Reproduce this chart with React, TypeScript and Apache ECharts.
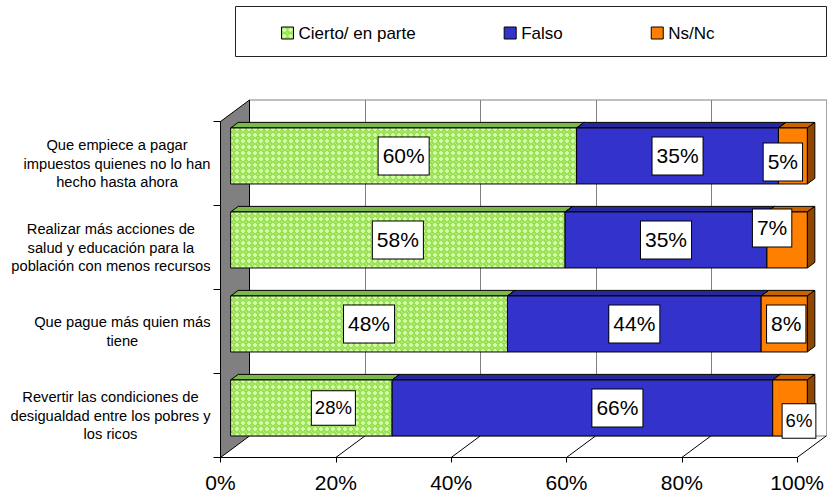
import React, { useEffect, useRef } from 'react';
import * as echarts from 'echarts';

// ---------- data ----------
const categories = [
  'Que empiece a pagar\nimpuestos quienes no lo han\nhecho hasta ahora',
  'Realizar más acciones de\nsalud y educación para la\npoblación con menos recursos',
  'Que pague más quien más\ntiene',
  'Revertir las condiciones de\ndesigualdad entre los pobres y\nlos ricos',
];
const seriesNames = ['Cierto/ en parte', 'Falso', 'Ns/Nc'];
const cierto = [60, 58, 48, 28];
const falso = [35, 35, 44, 66];
const nsnc = [5, 7, 8, 6];
const xTicks = [0, 20, 40, 60, 80, 100];

// ---------- styling / placement ----------
const FONT = 'Liberation Sans, Arial, Helvetica, sans-serif';
const FRONT = { left: 220.5, top: 121.5, width: 577.3, height: 336 };
const DEPTH = [29, -21.5];
const BAR_FRONT = 0.35;
const BAR_DEPTH = 0.26;
const BAR_FILL = 2 / 3;

// manual label nudges (px) per series / category
const labelShift = [
  [[0, 0], [0, 0], [0, 0], [22, 0]],
  [[0, 0], [0, 0], [0, 0], [35, 0]],
  [[-10, 6], [-15, -12], [2, 0], [9, 13]],
];
const labelFont = [
  [21, 21, 21, 18.5],
  [21, 21, 21, 21],
  [21, 21, 21, 18.5],
];

function greenPattern(): any {
  const c = document.createElement('canvas');
  c.width = 6;
  c.height = 6;
  const ctx = c.getContext('2d')!;
  ctx.fillStyle = '#98E253';
  ctx.fillRect(0, 0, 6, 6);
  ctx.fillStyle = '#D4FCA8';
  ctx.fillRect(2, 1, 2, 4);
  ctx.fillRect(1, 2, 4, 2);
  ctx.fillStyle = '#B8F082';
  ctx.fillRect(0, 0, 1, 1);
  ctx.fillRect(5, 5, 1, 1);
  return { image: c, repeat: 'repeat' };
}

export default function App() {
  const ref = useRef<HTMLDivElement>(null);

  useEffect(() => {
    if (!ref.current) return;
    const chart = echarts.init(ref.current, undefined, { renderer: 'svg' });
    const green = greenPattern();
    const faceColors = [
      { front: green, top: '#7DB84A', side: '#5E8F36', legend: green },
      { front: '#3333CC', top: '#27279E', side: '#1E1E7A', legend: '#3333CC' },
      { front: '#FF8000', top: '#C86400', side: '#8F4700', legend: '#FF8000' },
    ];
    const stacks = [cierto, falso, nsnc];

    const segData = (k: number) =>
      categories.map((_, i) => {
        let start = 0;
        for (let j = 0; j < k; j++) start += stacks[j][i];
        return [start, start + stacks[k][i], i];
      });

    const barRenderer = (k: number) => (params: any, api: any) => {
      const s = api.value(0);
      const e = api.value(1);
      const c = api.value(2);
      const p0 = api.coord([s, c]);
      const p1 = api.coord([e, c]);
      const band = api.size([0, 1])[1];
      const h = band * BAR_FILL;
      const fx = DEPTH[0] * BAR_FRONT;
      const fy = DEPTH[1] * BAR_FRONT;
      const dx = DEPTH[0] * BAR_DEPTH;
      const dy = DEPTH[1] * BAR_DEPTH;
      const x0 = p0[0] + fx;
      const x1 = p1[0] + fx;
      const yt = p0[1] + fy - h / 2;
      const yb = yt + h;
      const col = faceColors[k];
      const i = params.dataIndex;
      const off = labelShift[k][i];
      const fs = labelFont[k][i];
      return {
        type: 'group',
        children: [
          {
            type: 'polygon',
            shape: { points: [[x0, yt], [x1, yt], [x1 + dx, yt + dy], [x0 + dx, yt + dy]] },
            style: { fill: col.top, stroke: '#000', lineWidth: 1 },
          },
          {
            type: 'polygon',
            shape: { points: [[x1, yt], [x1 + dx, yt + dy], [x1 + dx, yb + dy], [x1, yb]] },
            style: { fill: col.side, stroke: '#000', lineWidth: 1 },
          },
          {
            type: 'rect',
            shape: { x: x0, y: yt, width: x1 - x0, height: h },
            style: { fill: col.front, stroke: '#000', lineWidth: 1 },
          },
          {
            type: 'text',
            z2: 100,
            style: {
              text: stacks[k][i] + '%',
              x: (x0 + x1) / 2 + off[0],
              y: (yt + yb) / 2 + off[1],
              align: 'center',
              verticalAlign: 'middle',
              fontSize: fs,
              fontFamily: FONT,
              lineHeight: fs + 3,
              fill: '#000',
              backgroundColor: '#fff',
              borderColor: '#000',
              borderWidth: 1,
              padding: fs > 20 ? [6.5, 4] : [6, 3],
            },
          },
        ],
      };
    };

    const frameRenderer = (params: any, api: any) => {
      const v = api.value(0);
      const band = api.size([0, 1])[1];
      const last = categories.length - 1;
      const top = api.coord([0, 0])[1] - band / 2;
      const bottom = api.coord([0, last])[1] + band / 2;
      const x = api.coord([v, last])[0];
      if (params.dataIndex === 0) {
        return {
          type: 'polygon',
          shape: {
            points: [
              [x, top],
              [x + DEPTH[0], top + DEPTH[1]],
              [x + DEPTH[0], bottom + DEPTH[1]],
              [x, bottom],
            ],
          },
          style: { fill: '#808080', stroke: '#000', lineWidth: 1 },
        };
      }
      return {
        type: 'line',
        shape: { x1: x, y1: bottom, x2: x + DEPTH[0], y2: bottom + DEPTH[1] },
        style: { stroke: '#000', lineWidth: 1 },
      };
    };

    const option: any = {
      animation: false,
      backgroundColor: '#fff',
      textStyle: { fontFamily: FONT },
      grid: [
        { ...FRONT, containLabel: false },
        {
          left: FRONT.left + DEPTH[0],
          top: FRONT.top + DEPTH[1],
          width: FRONT.width,
          height: FRONT.height,
          show: true,
          backgroundColor: '#fff',
          borderColor: '#808080',
          borderWidth: 1,
        },
      ],
      legend: {
        left: 281,
        top: 23,
        padding: 0,
        itemGap: 88,
        itemWidth: 12,
        itemHeight: 12,
        selectedMode: false,
        icon: 'rect',
        textStyle: { fontSize: 17, fontFamily: FONT, color: '#000', lineHeight: 20 },
        data: seriesNames.map((n, k) => ({
          name: n,
          itemStyle: { color: faceColors[k].legend, borderColor: '#000', borderWidth: 1 },
        })),
      },
      graphic: [
        {
          type: 'rect',
          z: -1,
          shape: { x: 235.5, y: 6.5, width: 591, height: 50 },
          style: { fill: '#fff', stroke: '#222', lineWidth: 1 },
        },
      ],
      xAxis: [
        {
          gridIndex: 0,
          type: 'value',
          min: 0,
          max: 100,
          interval: 20,
          axisLine: { show: true, lineStyle: { color: '#000', width: 1 } },
          axisTick: { show: true, length: 5, lineStyle: { color: '#000' } },
          splitLine: { show: false },
          axisLabel: {
            formatter: '{value}%',
            fontSize: 21,
            lineHeight: 21,
            color: '#000',
            fontFamily: FONT,
            margin: 14,
          },
        },
        {
          gridIndex: 1,
          type: 'value',
          min: 0,
          max: 100,
          interval: 20,
          axisLine: { show: false },
          axisTick: { show: false },
          axisLabel: { show: false },
          splitLine: { show: true, lineStyle: { color: '#808080', width: 1 } },
        },
      ],
      yAxis: [
        {
          gridIndex: 0,
          type: 'category',
          data: categories,
          inverse: true,
          axisLine: { show: true, lineStyle: { color: '#000' } },
          axisTick: { show: true, length: 7, lineStyle: { color: '#000' } },
          splitLine: { show: false },
          axisLabel: {
            align: 'right',
            margin: 10,
            formatter: (v: string) =>
              v.split('\n').map((l) => '{c|' + l + '}').join('\n'),
            rich: {
              c: {
                align: 'center',
                fontSize: 14.7,
                lineHeight: 18.7,
                color: '#000',
                fontFamily: FONT,
              },
            },
          },
        },
        {
          gridIndex: 1,
          type: 'category',
          data: categories,
          inverse: true,
          show: false,
        },
      ],
      series: [
        {
          type: 'custom',
          name: 'frame',
          xAxisIndex: 0,
          yAxisIndex: 0,
          z: 1,
          silent: true,
          encode: { x: 0 },
          data: xTicks.map((v) => [v]),
          renderItem: frameRenderer,
        },
        ...seriesNames.map((n, k) => ({
          type: 'custom',
          name: n,
          xAxisIndex: 0,
          yAxisIndex: 0,
          z: 3,
          itemStyle: { color: faceColors[k].legend },
          encode: { x: [0, 1], y: 2 },
          data: segData(k),
          renderItem: barRenderer(k),
        })),
      ],
    };
    chart.setOption(option);
    return () => chart.dispose();
  }, []);

  return (
    <div
      ref={ref}
      style={{ position: 'fixed', left: 0, top: 0, width: 827, height: 495 }}
    />
  );
}
